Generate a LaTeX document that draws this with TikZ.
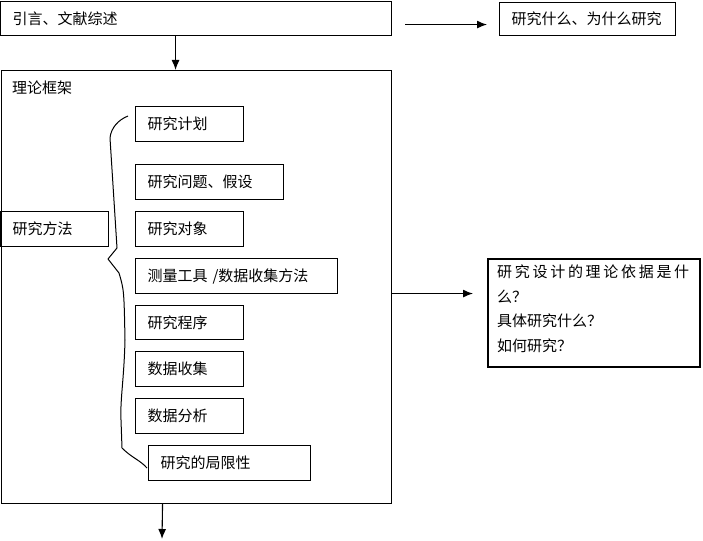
\documentclass[tikz,border=0pt]{standalone}
\usepackage{fontspec}
\setmainfont{Noto Sans CJK SC}
\usetikzlibrary{arrows.meta,calc}
\begin{document}
\begin{tikzpicture}[x=1pt,y=-1pt,
  font=\fontsize{15}{17}\selectfont,
  stepbox/.style={draw, line width=1.1pt, anchor=north west, minimum height=35pt,
    inner xsep=12pt, inner ysep=0pt, align=left},
  arr/.style={line width=1.1pt, -{Latex[length=10pt,width=8pt]}},
  txt/.style={anchor=west, inner sep=0pt}]
\useasboundingbox (0,0) rectangle (703,540);
% top row
\node[stepbox, text width=367pt, minimum height=34pt] (intro) at (0,1) {引言、文献综述};
\node[stepbox, text width=152pt, minimum height=33pt] (why) at (499,2) {研究什么、为什么研究};
% frame
\node[draw, line width=1.1pt, anchor=north west, minimum width=390pt, minimum height=433pt, inner sep=0pt] (frame) at (1,70) {};
\node[txt] (fname) at ($(frame.north west)+(11,18)$) {理论框架};
% inner boxes
\node[stepbox, text width=84pt] (plan) at (135,106) {研究计划};
\node[stepbox, text width=124pt] (ques) at (135,164) {研究问题、假设};
\node[stepbox, text width=84pt] (meth) at (0,211) {研究方法};
\node[stepbox, text width=84pt] (obj) at (135,211) {研究对象};
\node[stepbox, text width=178pt] (tool) at (135,258) {测量工具 /数据收集方法};
\node[stepbox, text width=84pt, minimum height=34pt] (proc) at (135,305) {研究程序};
\node[stepbox, text width=84pt] (coll) at (135,351) {数据收集};
\node[stepbox, text width=84pt] (anal) at (135,398) {数据分析};
\node[stepbox, text width=138pt] (lim) at (148,445) {研究的局限性};
% right box
\node[draw, line width=2pt, anchor=north west, minimum width=212pt, minimum height=108pt, inner sep=0pt] (basis) at (487,258) {};
\node[anchor=north west, inner sep=0pt, text width=195pt, align=left,
  font=\fontsize{15}{24.5}\selectfont] (basistext) at ($(basis.north west)+(10,7)$)
  {\hbox to 192pt{研\hfill 究\hfill 设\hfill 计\hfill 的\hfill 理\hfill 论\hfill 依\hfill 据\hfill 是\hfill 什}\\
   么？\\ 具体研究什么？\\ 如何研究？};
% brace
\draw[line width=1pt, line join=round]
  (128,116) .. controls (118,120) and (111,128) .. (110,138)
  -- (117,248) -- (108,259) -- (119,273)
  .. controls (124,290) .. (125,340)
  .. controls (124,380) and (120,400) .. (121,420)
  -- (122,448) .. controls (132,458) and (140,460) .. (147,468);
% arrows
\draw[arr] ([xshift=-20.5pt]intro.south) -- ([xshift=-20.5pt]intro.south |- frame.north);
\draw[arr] ([xshift=13pt,yshift=-6pt]intro.east) -- ([xshift=-12pt,yshift=-6pt]intro.east -| why.west);
\draw[arr] ([yshift=-6.5pt]frame.east) -- ([xshift=-14pt,yshift=-6.5pt]frame.east -| basis.west);
\coordinate (below) at (162,539);
\draw[arr] ([xshift=-34pt]frame.south) -- (below);
\end{tikzpicture}
\end{document}
